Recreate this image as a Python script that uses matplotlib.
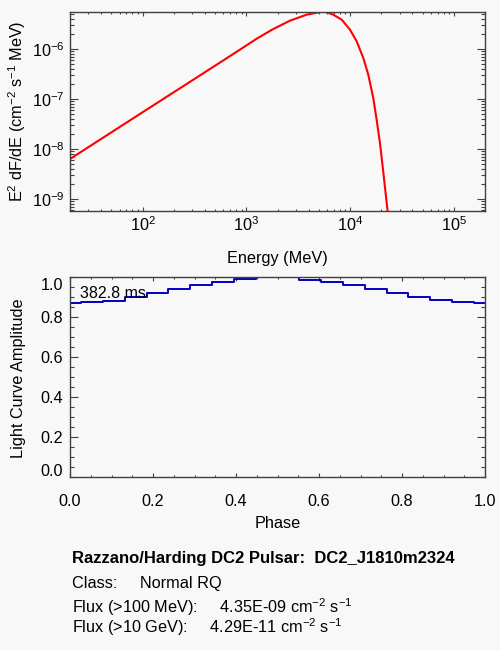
import numpy as np
import matplotlib
matplotlib.use("Agg")
import matplotlib.pyplot as plt
from matplotlib.ticker import LogLocator, MultipleLocator, NullFormatter
from matplotlib.transforms import ScaledTranslation

plt.rcParams['font.family'] = ['Liberation Sans', 'DejaVu Sans']
plt.rcParams['mathtext.fontset'] = 'custom'
plt.rcParams['mathtext.rm'] = 'Liberation Sans'
plt.rcParams['mathtext.it'] = 'Liberation Sans:italic'
plt.rcParams['mathtext.bf'] = 'Liberation Sans:bold'
plt.rcParams['axes.unicode_minus'] = False

# spectrum (MeV, E^2 dF/dE)
energy = [20, 100, 316, 794, 1259, 1820, 2630, 3802, 4764, 5370, 6026,
          6902, 8318, 10000, 11590, 13430, 15000, 16750, 18070, 19450,
          20940, 22230, 23070, 24040]
e2dfde = [6.31e-9, 5.42e-8, 2.51e-7, 8.59e-7, 1.607e-6, 2.51e-6, 3.68e-6,
          4.85e-6, 5.32e-6, 5.56e-6, 5.40e-6, 4.85e-6, 3.86e-6, 2.43e-6,
          1.426e-6, 6.61e-7, 3.06e-7, 1.047e-7, 3.8e-8, 1.3e-8, 3.4e-9,
          1.11e-9, 5.57e-10, 2.4e-10]

# light curve
phase = [0.0, 0.053, 0.105, 0.158, 0.211, 0.263, 0.316, 0.368, 0.421, 0.474,
         0.526, 0.579, 0.632, 0.684, 0.737, 0.789, 0.842, 0.895, 0.947, 1.0]
amplitude = [0.872, 0.874, 0.882, 0.90, 0.92, 0.941, 0.96, 0.976, 0.99, 1.0,
             1.0, 0.988, 0.975, 0.96, 0.941, 0.92, 0.90, 0.887, 0.876, 0.872]
period_label = "382.8 ms"
amp_ticks = [0.0, 0.2, 0.4, 0.6, 0.8, 1.0]

info_title = "Razzano/Harding DC2 Pulsar:  DC2_J1810m2324"
info_lines = ["Class:     Normal RQ",
              "Flux (>100 MeV):     4.35E-09 cm$^{-2}$ s$^{-1}$",
              "Flux (>10 GeV):     4.29E-11 cm$^{-2}$ s$^{-1}$"]

W, H = 500, 650
bg = '#f8f8f8'
frame = '#404040'
fs = 11.7

fig = plt.figure(figsize=(W / 100, H / 100), dpi=100, facecolor=bg)


def px(x, y):
    return x / W, 1 - y / H


def style_axes(ax, xpad, ypad):
    ax.set_facecolor(bg)
    for s in ax.spines.values():
        s.set_color(frame)
        s.set_linewidth(1.0)
    ax.tick_params(which='both', direction='in', top=True, right=True,
                   colors=frame, labelcolor='black', labelsize=fs, width=0.8)
    ax.tick_params(axis='y', which='major', length=6.0, pad=ypad)
    ax.tick_params(axis='y', which='minor', length=3.0)
    ax.tick_params(axis='x', which='major', length=2.9, pad=xpad)
    ax.tick_params(axis='x', which='minor', length=1.5)


# spectrum panel
ax1 = fig.add_axes([70 / W, 1 - 211 / H, 415 / W, 199 / H])
ax1.plot(energy, e2dfde, color='red', lw=1.5)
ax1.set_xscale('log')
ax1.set_yscale('log')
ax1.set_xlim(20, 2e5)
ax1.set_ylim(5.75e-10, 5.5e-6)
ax1.xaxis.set_minor_locator(LogLocator(base=10, subs=np.arange(2, 10)))
ax1.yaxis.set_minor_locator(LogLocator(base=10, subs=np.arange(2, 10)))
ax1.xaxis.set_minor_formatter(NullFormatter())
ax1.yaxis.set_minor_formatter(NullFormatter())
style_axes(ax1, 2.9, 3.6)

fig.text(*px(277.5, 263), "Energy (MeV)", ha='center', va='baseline', fontsize=fs)
fig.text(*px(16.7, 111), "E$^2$ dF/dE (cm$^{-2}$ s$^{-1}$ MeV)", rotation=90,
         ha='center', va='center', fontsize=fs)

# light curve panel
ax2 = fig.add_axes([70 / W, 1 - 476.7 / H, 415 / W, 199.4 / H])
ax2.step(phase, amplitude, where='mid', color='#0000c0', lw=1.4)
ax2.set_xlim(0, 1)
ax2.set_ylim(0, 1)
ax2.xaxis.set_major_locator(MultipleLocator(0.2))
ax2.xaxis.set_minor_locator(MultipleLocator(0.05))
ax2.yaxis.set_minor_locator(MultipleLocator(0.05))
ax2.xaxis.set_major_formatter(matplotlib.ticker.FormatStrFormatter('%.1f'))
# the 0.0 and 1.0 ticks sit on the frame; their labels are nudged inward
ax2.set_yticks(amp_ticks[1:-1])
ax2.set_yticklabels(['%.1f' % v for v in amp_ticks[1:-1]])
style_axes(ax2, 12.5, 4.8)
ax2.text(0.024, 0.895, period_label, fontsize=11.5, va='baseline', ha='left')

ytr = ax2.get_yaxis_transform()
for v, dy in [(amp_ticks[0], 0.063), (amp_ticks[-1], -0.07)]:
    ax2.text(0, v, '%.1f' % v, fontsize=fs, ha='right', va='center_baseline',
             transform=ytr + ScaledTranslation(-4.8 / 72, dy, fig.dpi_scale_trans),
             clip_on=False)

fig.text(*px(277.5, 528.3), "Phase", ha='center', va='baseline', fontsize=fs)
fig.text(*px(19, 378), "Light Curve Amplitude", rotation=90,
         ha='center', va='center', fontsize=fs)

# info text
fig.text(*px(71.7, 563.3), info_title, fontsize=12, fontweight='bold',
         va='baseline', ha='left')
for yb, line in zip([588.3, 612.7, 633.3], info_lines):
    fig.text(*px(71.7, yb), line, fontsize=fs, va='baseline', ha='left')

fig.savefig('out.png', dpi=100, facecolor=bg)
